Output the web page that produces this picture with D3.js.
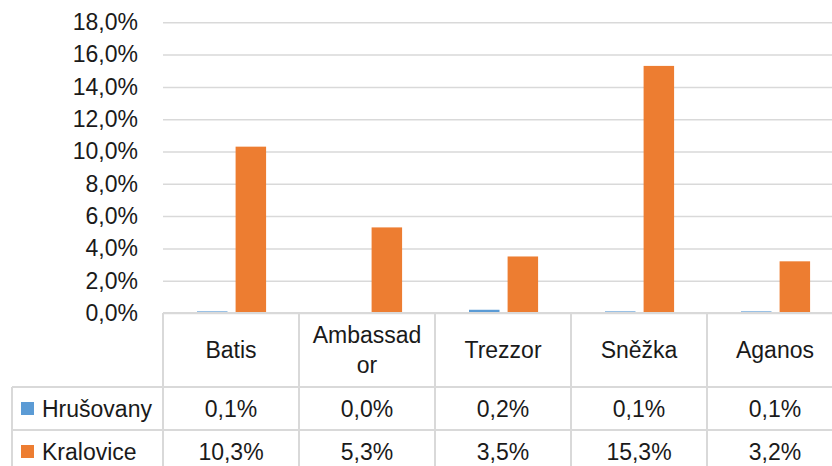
<!DOCTYPE html>
<html>
<head>
<meta charset="utf-8">
<script src="https://cdn.jsdelivr.net/npm/d3@7"></script>
<style>
  body { margin: 0; background: #fff; }
  text { font-family: 'Liberation Sans', Arial, sans-serif; font-size: 23px; fill: #1a1a1a; }
</style>
</head>
<body>
<svg id="canvas"></svg>
<script>
let categories = ['Batis', 'Ambassador', 'Trezzor', 'Sněžka', 'Aganos']
let seriesNames = ['Hrušovany', 'Kralovice']
let hrusovany = [0.1, 0.0, 0.2, 0.1, 0.1]
let kralovice = [10.3, 5.3, 3.5, 15.3, 3.2]
let yTicks = [0, 2, 4, 6, 8, 10, 12, 14, 16, 18]
let colors = ['#5b9bd5', '#ed7d31']

let width = 832
let height = 466
let plotLeft = 163
let plotRight = 843
let plotTop = 22.3
let plotBottom = 313
let rowH = 43
let headerBottom = 387
let tableLeft = 12
let grid = '#d9d9d9'

let canvas = d3.select('#canvas')
canvas.attr('width', width).attr('height', height)

let seriesValues = [hrusovany, kralovice]
let values = []
categories.forEach((c, i) => {
    seriesNames.forEach((s, j) => {
        values.push({ category: c, series: s, value: seriesValues[j][i], color: colors[j] })
    })
})

let fmt = v => v.toFixed(1).replace('.', ',') + '%'

let xScale = d3.scaleBand().domain(categories).range([plotLeft, plotRight])
let bw = xScale.bandwidth()
let xInner = d3.scaleBand().domain(seriesNames).range([bw * 0.25, bw * 0.758]).paddingInner(0.21)
let yScale = d3.scaleLinear().domain([0, 18]).range([plotBottom, plotTop])

// gridlines + y labels
let yAxis = d3.axisLeft(yScale)
    .tickValues(yTicks)
    .tickSize(-(plotRight - plotLeft))
    .tickPadding(25)
    .tickFormat(d => fmt(d))
let gy = canvas.append('g')
    .attr('transform', 'translate(' + plotLeft + ',0)')
    .call(yAxis)
gy.select('.domain').remove()
gy.selectAll('.tick line').attr('stroke', grid).attr('stroke-width', 1.5)
gy.attr('font-size', null).attr('font-family', null)
gy.selectAll('.tick text').attr('fill', '#1a1a1a')

// bars
canvas.selectAll('rect.bar')
    .data(values)
    .enter()
    .append('rect')
    .attr('class', 'bar')
    .attr('x', d => xScale(d.category) + xInner(d.series))
    .attr('width', xInner.bandwidth())
    .attr('y', d => yScale(d.value))
    .attr('height', d => yScale(0) - yScale(d.value))
    .attr('fill', d => d.color)

// data table lines
let tableBottom = headerBottom + 2 * rowH
let lines = canvas.append('g').attr('stroke', grid).attr('stroke-width', 2)
lines.append('line').attr('x1', plotLeft).attr('x2', plotRight).attr('y1', plotBottom).attr('y2', plotBottom)
;[headerBottom, headerBottom + rowH, tableBottom].forEach(y => {
    lines.append('line').attr('x1', tableLeft).attr('x2', plotRight).attr('y1', y).attr('y2', y)
})
lines.append('line').attr('x1', tableLeft).attr('x2', tableLeft).attr('y1', headerBottom).attr('y2', tableBottom)
categories.concat([null]).forEach(c => {
    let x = c ? xScale(c) : plotRight
    lines.append('line').attr('x1', x).attr('x2', x).attr('y1', plotBottom).attr('y2', tableBottom)
})

// category headers (wrap like Excel, breaking mid-word)
let headerMid = (plotBottom + headerBottom) / 2
categories.forEach(c => {
    let t = canvas.append('text')
        .attr('text-anchor', 'middle')
        .attr('x', xScale(c) + bw / 2)
    t.text(c)
    let lineList = []
    let maxW = bw - 22
    if (t.node().getComputedTextLength() > maxW) {
        let cur = ''
        for (let ch of c) {
            t.text(cur + ch)
            if (t.node().getComputedTextLength() > maxW) {
                lineList.push(cur)
                cur = ch
            } else {
                cur += ch
            }
        }
        lineList.push(cur)
    } else {
        lineList.push(c)
    }
    t.text(null)
    let lh = 30
    let y0 = headerMid - (lineList.length - 1) * lh / 2
    lineList.forEach((l, k) => {
        t.append('tspan')
            .attr('x', xScale(c) + bw / 2)
            .attr('y', y0 + k * lh)
            .attr('dy', '0.35em')
            .text(l)
    })
})

// data rows
seriesNames.forEach((s, j) => {
    let yMid = headerBottom + rowH * j + rowH / 2
    canvas.append('rect')
        .attr('x', 21)
        .attr('y', yMid - 6.5)
        .attr('width', 13)
        .attr('height', 13)
        .attr('fill', colors[j])
    canvas.append('text')
        .attr('x', 42)
        .attr('y', yMid)
        .attr('dy', '0.35em')
        .text(s)
    categories.forEach((c, i) => {
        canvas.append('text')
            .attr('text-anchor', 'middle')
            .attr('x', xScale(c) + bw / 2)
            .attr('y', yMid)
            .attr('dy', '0.35em')
            .text(fmt(seriesValues[j][i]))
    })
})
</script>
</body>
</html>
